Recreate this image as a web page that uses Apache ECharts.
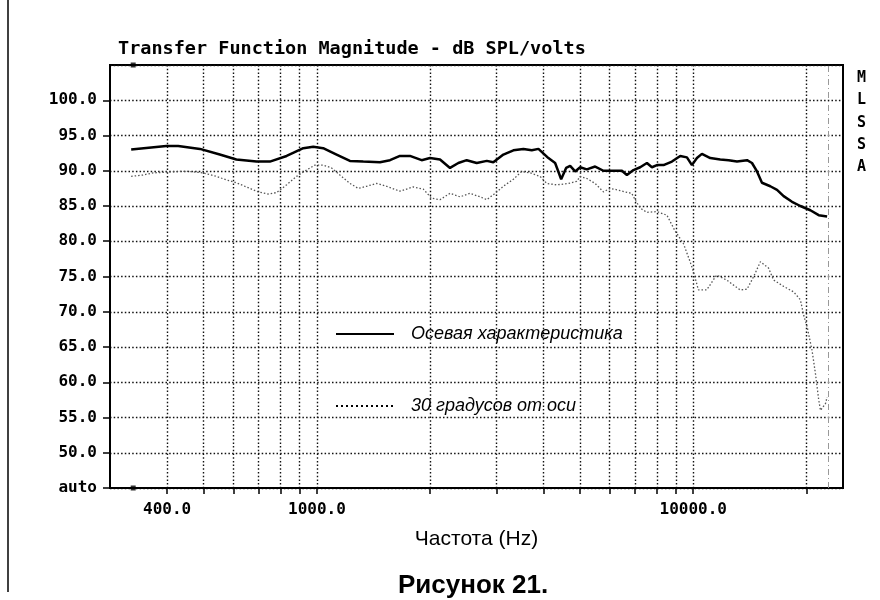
<!DOCTYPE html>
<html>
<head>
<meta charset="utf-8">
<title>Transfer Function Magnitude</title>
<script src="https://cdn.jsdelivr.net/npm/echarts@6/dist/echarts.min.js"></script>
<style>
  html, body { margin: 0; padding: 0; background: #fff; }
  #chart { width: 880px; height: 600px; }
</style>
</head>
<body>
<div id="chart"></div>
<script>
// осевая характеристика, Гц / дБ
const axialFreq = [321, 398, 428, 489, 552, 611, 691, 750, 831, 920, 978, 1039, 1128, 1224, 1328, 1471, 1564, 1662, 1767, 1898,
  1998, 2124, 2258, 2376, 2501, 2659, 2828, 2943, 3130, 3328, 3538, 3724, 3879, 4123, 4296, 4457, 4594, 4709, 4856, 5006,
  5215, 5487, 5773, 6138, 6464, 6664, 6937, 7228, 7532, 7767, 8008, 8337, 8778, 9235, 9621, 9920, 10228, 10546, 11099, 11798,
  12415, 13069, 13897, 14326, 14771, 15226, 16022, 16697, 17385, 18302, 19260, 20475, 21548, 22682]
const axialDb = [93.0, 93.5, 93.5, 93.1, 92.3, 91.6, 91.3, 91.3, 92.1, 93.2, 93.4, 93.2, 92.3, 91.4, 91.3, 91.2, 91.5, 92.1, 92.1, 91.5,
  91.8, 91.6, 90.4, 91.1, 91.5, 91.1, 91.4, 91.2, 92.3, 92.9, 93.1, 92.9, 93.1, 91.8, 91.1, 88.8, 90.4, 90.7, 89.9, 90.5,
  90.2, 90.6, 90.0, 90.0, 90.0, 89.4, 90.1, 90.5, 91.1, 90.5, 90.8, 90.8, 91.3, 92.1, 91.9, 90.8, 91.8, 92.4, 91.8, 91.6,
  91.5, 91.3, 91.5, 91.1, 89.9, 88.3, 87.8, 87.3, 86.4, 85.6, 85.0, 84.4, 83.7, 83.5]

// 30 градусов от оси
const offAxisFreq = [321, 345, 367, 398, 433, 459, 498, 541, 575, 611, 650, 698, 742, 781, 831, 883, 939, 988, 1039, 1094,
  1151, 1224, 1288, 1355, 1441, 1532, 1662, 1802, 1917, 2018, 2124, 2258, 2401, 2552, 2714, 2828, 2976, 3130, 3328, 3502,
  3684, 3917, 4083, 4342, 4661, 4905, 5006, 5215, 5487, 5773, 6017, 6270, 6590, 6862, 7006, 7228, 7532, 8008, 8511, 8939,
  9413, 9809, 10010, 10320, 10860, 11535, 12270, 13320, 13897, 14477, 15084, 15848, 16353, 17385, 18493, 19260, 19656, 20068, 20688, 21125,
  21560, 21785, 22470, 22682]
const offAxisDb = [89.2, 89.4, 89.7, 89.8, 89.9, 89.9, 89.7, 89.2, 88.7, 88.3, 87.7, 87.0, 86.7, 86.9, 88.0, 89.2, 90.1, 90.8, 90.8, 90.4,
  89.4, 88.2, 87.5, 87.8, 88.2, 87.8, 87.1, 87.7, 87.4, 86.1, 85.9, 86.8, 86.3, 86.8, 86.3, 85.9, 86.8, 87.8, 88.8, 89.9,
  89.7, 89.2, 88.2, 88.0, 88.2, 88.5, 89.2, 88.9, 88.2, 87.0, 87.5, 87.3, 87.0, 86.8, 85.9, 84.7, 84.1, 84.2, 83.7, 81.5,
  79.7, 77.1, 75.7, 73.1, 73.1, 75.2, 74.5, 73.1, 73.2, 75.0, 77.1, 76.2, 74.5, 73.6, 72.8, 71.7, 69.5, 67.9, 64.5, 61.2,
  57.4, 56.0, 57.0, 57.9]

const xTickValues = [400, 500, 600, 700, 800, 900, 1000, 2000, 3000, 4000, 5000, 6000, 7000, 8000, 9000, 10000, 20000]
const xLabelValues = [400, 1000, 10000]
const cursorFreq = 325
const markerFreq = 22900

const pairs = (xs, ys) => xs.map((x, i) => [x, ys[i]])

const chart = echarts.init(document.getElementById('chart'))
const monoFont = '"DejaVu Sans Mono", monospace'
const sansFont = '"Liberation Sans", Arial, sans-serif'
const gridLine = { color: '#111', width: 1.4, type: [1.5, 2.2] }

const option = {
  animation: false,
  backgroundColor: '#fff',
  title: [
    {
      text: 'Transfer Function Magnitude - dB SPL/volts',
      left: 118,
      top: 40,
      padding: 0,
      textStyle: { fontFamily: monoFont, fontSize: 18.5, fontWeight: 'bold', color: '#000' }
    },
    {
      text: 'M\nL\nS\nS\nA',
      left: 857,
      top: 67,
      padding: 0,
      textStyle: { fontFamily: monoFont, fontSize: 15, fontWeight: 'bold', color: '#000', lineHeight: 22.3 }
    },
    {
      text: 'Рисунок 21.',
      left: 398,
      top: 573,
      padding: 0,
      textStyle: { fontFamily: sansFont, fontSize: 26, fontWeight: 'bold', color: '#000' }
    }
  ],
  graphic: [
    { type: 'line', shape: { x1: 8, y1: 0, x2: 8, y2: 592 }, style: { stroke: '#000', lineWidth: 1.5 } }
  ],
  legend: {
    orient: 'vertical',
    left: 335,
    top: 325,
    padding: 0,
    itemWidth: 58,
    itemHeight: 14,
    itemGap: 54,
    itemStyle: { opacity: 0 },
    data: [
      { name: 'Осевая характеристика', lineStyle: { color: '#000', width: 2, type: 'solid' } },
      { name: '30 градусов от оси', lineStyle: { color: '#000', width: 2, type: [2, 3] } }
    ],
    textStyle: {
      fontFamily: sansFont,
      fontStyle: 'italic',
      fontSize: 18,
      color: '#000',
      padding: [0, 0, 0, 12]
    }
  },
  grid: { left: 110, right: 37, top: 65, bottom: 112, show: true, borderColor: '#000', borderWidth: 2 },
  xAxis: {
    type: 'log',
    min: 282,
    max: 25000,
    name: 'Частота (Hz)',
    nameLocation: 'middle',
    nameGap: 41,
    nameTextStyle: { fontFamily: sansFont, fontSize: 21, color: '#000' },
    axisLine: { lineStyle: { color: '#000', width: 2 } },
    axisTick: { customValues: xTickValues, length: 6, lineStyle: { color: '#000', width: 1.5 } },
    axisLabel: {
      customValues: xLabelValues,
      formatter: v => v.toFixed(1),
      margin: 14,
      fontFamily: monoFont,
      fontSize: 16,
      fontWeight: 'bold',
      color: '#000'
    },
    splitLine: { show: true, lineStyle: gridLine },
    minorTick: { show: false }
  },
  yAxis: {
    type: 'value',
    min: 45,
    max: 105,
    interval: 5,
    axisLine: { show: true, lineStyle: { color: '#000', width: 2 } },
    axisTick: { show: true, length: 7, lineStyle: { color: '#000', width: 1.5 } },
    axisLabel: {
      margin: 13,
      showMinLabel: true,
      showMaxLabel: false,
      formatter: v => (v === 45 ? 'auto' : v === 105 ? '' : v.toFixed(1)),
      fontFamily: monoFont,
      fontSize: 16,
      fontWeight: 'bold',
      color: '#000'
    },
    splitLine: { show: true, lineStyle: gridLine }
  },
  series: [
    {
      name: 'Осевая характеристика',
      type: 'line',
      data: pairs(axialFreq, axialDb),
      symbol: 'none',
      itemStyle: { color: '#000' },
      lineStyle: { color: '#000', width: 2.5 }
    },
    {
      name: '30 градусов от оси',
      type: 'line',
      data: pairs(offAxisFreq, offAxisDb),
      symbol: 'none',
      itemStyle: { color: '#555' },
      lineStyle: { color: '#555', width: 1.3, type: [1.5, 2] },
      markLine: {
        silent: true,
        symbol: 'none',
        label: { show: false },
        lineStyle: { color: '#999', width: 1, type: [6, 3, 1, 3] },
        data: [{ xAxis: markerFreq }]
      }
    },
    {
      name: 'cursor',
      type: 'scatter',
      data: [[cursorFreq, 105], [cursorFreq, 45]],
      symbol: 'rect',
      symbolSize: 5,
      itemStyle: { color: '#000' },
      silent: true
    }
  ]
}

chart.setOption(option)
window.onresize = () => {
  chart.resize()
}
</script>
</body>
</html>
